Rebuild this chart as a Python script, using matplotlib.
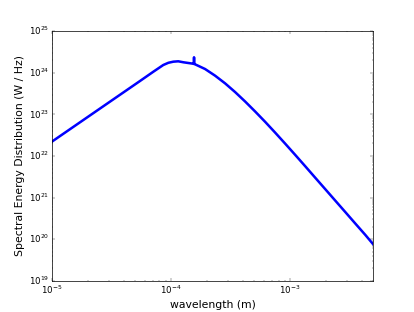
import numpy as np
import matplotlib
matplotlib.use('Agg')
import matplotlib.pyplot as plt

plt.style.use('classic')

# wavelength (m) and spectral energy distribution (W / Hz)
wavelength = [1.0e-5, 5.49e-5, 7.10e-5, 8.61e-5, 9.5e-5, 1.045e-4, 1.15e-4,
              1.27e-4, 1.50e-4, 1.555e-4, 1.56e-4, 1.565e-4, 1.591e-4,
              1.931e-4, 2.343e-4, 2.844e-4, 3.451e-4, 4.188e-4, 5.08e-4,
              6.17e-4, 7.48e-4, 9.08e-4, 1.102e-3, 1.337e-3, 1.622e-3,
              1.968e-3, 2.388e-3, 2.898e-3, 3.516e-3, 4.27e-3, 5.0e-3]
sed = [2.21e22, 6.35e23, 1.06e24, 1.54e24, 1.74e24, 1.85e24, 1.89e24,
       1.79e24, 1.67e24, 1.64e24, 2.36e24, 1.63e24, 1.60e24,
       1.233e24, 8.53e23, 5.57e23, 3.44e23, 2.04e23, 1.175e23,
       6.61e22, 3.65e22, 1.98e22, 1.064e22, 5.68e21, 3.01e21,
       1.60e21, 8.49e20, 4.51e20, 2.39e20, 1.27e20, 7.41e19]

fig = plt.figure(figsize=(7.98, 6), dpi=52)
ax = fig.add_subplot(111)
ax.loglog(wavelength, sed, 'b-', lw=3.5)
ax.set_xlim(1e-5, 5e-3)
ax.set_ylim(1e19, 1e25)
ax.set_xlabel('wavelength (m)', fontsize=15)
ax.set_ylabel('Spectral Energy Distribution (W / Hz)', fontsize=15)

fig.savefig('out.png', dpi=52)
